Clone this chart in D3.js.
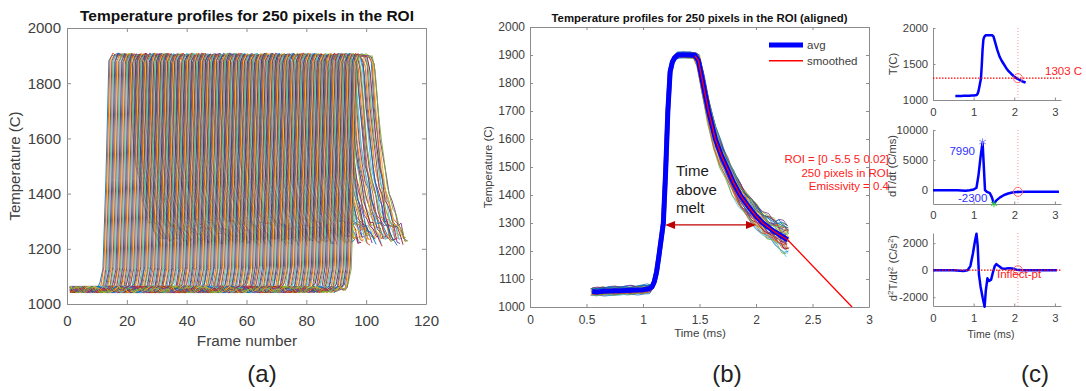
<!DOCTYPE html>
<html><head><meta charset="utf-8">
<script src="https://cdn.jsdelivr.net/npm/d3@7"></script>
<style>
body{margin:0;background:#fff}
svg{display:block}
text{font-family:"Liberation Sans",Arial,Helvetica,sans-serif}
</style>
</head><body>
<svg id="chart" width="1086" height="391"></svg>
<script>
// ================= DATA =================
const matlabColors = ["#0072BD","#D95319","#EDB120","#7E2F8E","#77AC30","#4DBEEE","#A2142F"];

// ---- panel (a): raw profiles, frame domain
const riseFramesA = [11,12,13,14,15,16,17,18,19,20,21,22,23,24,25,26,27,28,29,30,31,32,33,34,35,36,37,38,39,40,41,42,43,44,45,46,47,48,49,50,51,52,53,54,55,56,57,58,59,60,61,62,63,64,65,66,67,68,69,70,71,72,73,74,75,76,77,78,79,80,81,82,83,84,85,86,87,88,89,90,91,92,93,94];
const subFrameA = [0, 0.33, 0.67];
const levelA = [0, -9, 7];
const baselineA = 1053;
const templateA = [1065,1130,1450,1880,1905,1900,1902,1900,1895,1860,1720,1600,1510,1445,1395,1350,1310,1290,1275,1245,1235];
const templateNoiseA = [1,0.6,0.5,0.4,0.4,0.4,0.4,0.4,0.6,1.4,1.9,1.9,1.9,1.9,1.9,1.9,1.8,1.7,1.6,1.5,1.4];
const jitter = [5,-8,3,11,-4,-10,7,0,-6,9,-2,-11,4,8,-5,2,-9,6,10,-3,-7,1,12,-1,-12,3,7,-6,9,-4,0,-8,5,11,-10,2,-5];
const xTicksA = [0,20,40,60,80,100,120];
const yTicksA = [1000,1200,1400,1600,1800,2000];

// ---- panel (b): aligned profiles
const tAvgB = [0.55,0.60,0.65,0.70,0.75,0.80,0.85,0.90,0.95,1.00,1.05,1.08,1.10,1.12,1.14,1.16,1.18,1.20,1.22,1.24,1.26,1.28,1.31,1.36,1.41,1.46,1.49,1.53,1.58,1.64,1.69,1.74,1.80,1.86,1.91,1.95,2.00,2.06,2.11,2.16,2.20,2.24,2.28];
const TAvgB = [1055,1054,1056,1057,1058,1058,1059,1060,1061,1062,1065,1072,1090,1125,1180,1240,1300,1480,1700,1840,1875,1890,1900,1900,1900,1898,1880,1800,1700,1600,1545,1500,1445,1400,1372,1350,1325,1300,1285,1270,1260,1250,1240];
const spreadB = [0.35,0.35,0.35,0.35,0.35,0.35,0.35,0.35,0.35,0.35,0.35,0.15,0.15,0.15,0.15,0.15,0.15,0.15,0.15,0.15,0.15,0.15,0.25,0.25,0.25,0.25,0.5,0.8,1,1,1,1,1,1,1,1,1,1,1,1,1.15,1.25,1.3];
const pixTimeShiftB = [0.005,-0.01,0.015,-0.005,0.0,0.01,-0.015,0.008,-0.008,0.012,-0.003,0.003,-0.012,0.01,-0.01,0.005,-0.005,0.015,-0.015,0.0,0.006,-0.009,0.011,-0.004,0.002,0.014,-0.013,0.008,-0.006,0.004,-0.002,0.012,-0.011,0.009,-0.008,0.003,-0.014,0.013,-0.003,0.007];
const pixTempShiftB = [25,-30,10,-15,35,-5,20,-40,5,30,-20,15,-35,0,40,-10,22,-25,12,-32,28,-8,18,-22,38,-12,8,-28,32,-18,2,26,-36,14,-4,36,-26,6,-14,24];
const tSmoothB = [1.46,1.49,1.53,1.58,1.64,1.69,1.74,1.80,1.86,1.91,1.95,2.00,2.06,2.11,2.16,2.20,2.24,2.28,2.85];
const TSmoothB = [1898,1880,1800,1700,1600,1545,1500,1445,1400,1372,1350,1325,1300,1285,1270,1260,1250,1240,1000];
const xTicksB = [0,0.5,1,1.5,2,2.5,3];
const yTicksB = [1000,1100,1200,1300,1400,1500,1600,1700,1800,1900,2000];
const arrowB = {t0:1.195, t1:2.0, T:1293};
const roiText = ["ROI = [0 -5.5 5 0.02]","250 pixels in ROI","Emissivity = 0.4"];
const legendB = ["avg","smoothed"];

// ---- panel (c)
const meltTemp = 1303;
const inflectTime = 2.09;
const tD1 = [0.0,0.6,0.8,0.9,1.0,1.07,1.12,1.17,1.22,1.25,1.28,1.33,1.4,1.45,1.5,1.56,1.65,1.75,1.85,1.95,2.05,2.3,2.7,3.1];
const vD1 = [0,0,-80,0,100,400,2500,5500,7990,4000,0,-300,-500,-1200,-2300,-1700,-1200,-800,-550,-400,-320,-280,-270,-270];
const tD2 = [0.0,0.5,0.75,0.85,0.92,0.98,1.03,1.07,1.1,1.13,1.17,1.22,1.27,1.3,1.34,1.38,1.43,1.48,1.52,1.56,1.62,1.7,1.78,1.86,1.95,2.05,2.2,3.05];
const vD2 = [0,0,-60,0,300,1200,2100,2700,1800,-300,-1200,-2000,-2700,-1500,-600,-800,-700,-100,300,450,300,120,100,150,120,40,0,0];
const xTicksC = [0,1,2,3];
const yTicksC1 = [1000,1500,2000];
const yTicksC2 = [0,5000,10000];
const yTicksC3 = [-2000,0,2000];

// ================= DRAWING =================
const svg = d3.select("#chart");
const AX = "#8c8c8c", TX = "#404040";
const fmt = d => String(d);

function styleAxis(g, fs){
  g.selectAll("path.domain").attr("stroke", AX).attr("stroke-width",1);
  g.selectAll(".tick line").attr("stroke", AX);
  g.selectAll(".tick text").attr("fill", TX).attr("font-size", fs).attr("font-family","Liberation Sans, Arial, sans-serif");
}
function axes(x, y, o){
  const [x0,x1] = x.range(), [y0,y1] = y.range();
  const g = svg.append("g");
  const b = g.append("g").attr("transform",`translate(0,${y0})`)
    .call(d3.axisBottom(x).tickValues(o.xt).tickSize(-o.tick).tickSizeOuter(0).tickPadding(o.xpad).tickFormat(fmt));
  styleAxis(b, o.fs);
  const l = g.append("g").attr("transform",`translate(${x0},0)`)
    .call(d3.axisLeft(y).tickValues(o.yt).tickSize(-o.tick).tickSizeOuter(0).tickPadding(o.ypad).tickFormat(fmt));
  styleAxis(l, o.fs);
  if(o.box){
    const t = g.append("g").attr("transform",`translate(0,${y1})`)
      .call(d3.axisTop(x).tickValues(o.xt).tickSize(-o.tick).tickSizeOuter(0).tickFormat(""));
    styleAxis(t, o.fs);
    const r = g.append("g").attr("transform",`translate(${x1},0)`)
      .call(d3.axisRight(y).tickValues(o.yt).tickSize(-o.tick).tickSizeOuter(0).tickFormat(""));
    styleAxis(r, o.fs);
  }
  return g;
}
function label(x, y, txt, fs, opts={}){
  const t = svg.append("text").attr("x",x).attr("y",y).attr("font-size",fs)
    .attr("text-anchor", opts.anchor||"middle").attr("fill", opts.fill||TX)
    .attr("font-weight", opts.bold?"bold":"normal").text(txt);
  if(opts.rot) t.attr("transform",`rotate(-90,${x},${y})`);
  return t;
}

// ---------- Panel (a)
const xA = d3.scaleLinear().domain([0,120]).range([67,426]);
const yA = d3.scaleLinear().domain([1000,2000]).range([304,28]);
const linesA = [];
riseFramesA.forEach((r,i)=>{
  subFrameA.forEach((s,j)=>{
    if(linesA.length>=250) return;
    const pts = [];
    for(let f=1; f<r; f++) pts.push([f+s, baselineA + jitter[(f*3+i+j*11)%jitter.length]]);
    templateA.forEach((v,k)=>{
      pts.push([r+k+s, v + (k>=9?levelA[j]:0) + templateNoiseA[k]*jitter[(r*2+k*5+j*13)%jitter.length]]);
    });
    linesA.push(pts);
  });
});
const lineA = d3.line().x(d=>xA(d[0])).y(d=>yA(d[1]));
svg.append("g").selectAll("path").data(linesA).join("path")
  .attr("d", lineA).attr("fill","none")
  .attr("stroke",(d,i)=>matlabColors[i%7]).attr("stroke-width",1).attr("stroke-opacity",0.9);
axes(xA, yA, {xt:xTicksA, yt:yTicksA, tick:4, xpad:11, ypad:6, fs:15, box:true});
label(247, 20.5, "Temperature profiles for 250 pixels in the ROI", 15.5, {bold:true, fill:"#111"});
label(247, 346, "Frame number", 15.3);
label(19.5, 166, "Temperature (C)", 15, {rot:true});
label(262, 382, "(a)", 24, {fill:"#222"});

// ---------- Panel (b)
const xB = d3.scaleLinear().domain([0,3]).range([530,869]);
const yB = d3.scaleLinear().domain([1000,2000]).range([307,27]);
const lineB = d3.line().x(d=>xB(d[0])).y(d=>yB(d[1]));
const pixB = pixTimeShiftB.map((dt,p)=> tAvgB.map((t,i)=>[
  t+dt, TAvgB[i] + pixTempShiftB[p]*spreadB[i] + spreadB[i]*jitter[(i*5+p*3)%jitter.length]
]));
svg.append("g").selectAll("path").data(pixB).join("path")
  .attr("d", lineB).attr("fill","none")
  .attr("stroke",(d,i)=>matlabColors[i%7]).attr("stroke-width",0.8);
svg.append("path").datum(tAvgB.map((t,i)=>[t,TAvgB[i]])).attr("d",lineB)
  .attr("fill","none").attr("stroke","#0000ff").attr("stroke-width",5).attr("stroke-linejoin","round");
svg.append("path").datum(tSmoothB.map((t,i)=>[t,TSmoothB[i]])).attr("d",lineB)
  .attr("fill","none").attr("stroke","#ff0000").attr("stroke-width",1.3);
axes(xB, yB, {xt:xTicksB, yt:yTicksB, tick:3, xpad:8, ypad:5, fs:12, box:true});
label(699.5, 21.5, "Temperature profiles for 250 pixels in the ROI (aligned)", 11.4, {bold:true, fill:"#111"});
label(700, 337, "Time (ms)", 11.6);
label(492, 167, "Temperature (C)", 11.3, {rot:true});
label(727, 382, "(b)", 24, {fill:"#222"});
// legend
const legColors = ["#0000ff","#ff0000"], legW = [5,1.5];
legendB.forEach((s,i)=>{
  const yy = 45 + i*15.7;
  svg.append("line").attr("x1",769).attr("x2",803).attr("y1",yy).attr("y2",yy)
    .attr("stroke",legColors[i]).attr("stroke-width",legW[i]);
  label(807, yy+4, s, 11.5, {anchor:"start"});
});
// time above melt annotation
["Time","above","melt"].forEach((s,i)=> label(676, 176+i*18.7, s, 15, {anchor:"start", fill:"#1a1a1a"}));
const ay = yB(arrowB.T), ax0 = xB(arrowB.t0), ax1 = xB(arrowB.t1);
svg.append("line").attr("x1",ax0+8).attr("x2",ax1-8).attr("y1",ay).attr("y2",ay).attr("stroke","#c00000").attr("stroke-width",1.3);
svg.append("path").attr("d",`M${ax0},${ay}L${ax0+10},${ay-4}L${ax0+10},${ay+4}Z`).attr("fill","#c00000");
svg.append("path").attr("d",`M${ax1},${ay}L${ax1-10},${ay-4}L${ax1-10},${ay+4}Z`).attr("fill","#c00000");
roiText.forEach((s,i)=> label(889, 163+i*13.7, s, 11.5, {anchor:"end", fill:"#ff2020"}));

// ---------- Panel (c)
const xC = d3.scaleLinear().domain([0,3.15]).range([933,1061]);
const yC1 = d3.scaleLinear().domain([1000,2000]).range([100,28]);
const yC2 = d3.scaleLinear().domain([-2300,10000]).range([204,130]);
const yC3 = d3.scaleLinear().domain([-2650,2750]).range([306,233]);
const cfg = {xt:xTicksC, tick:2.5, xpad:8, ypad:5, fs:11.3, box:false};

function vline(y){
  svg.append("line").attr("x1",xC(inflectTime)).attr("x2",xC(inflectTime))
    .attr("y1",y.range()[1]).attr("y2",y.range()[0])
    .attr("stroke","#ff8a8a").attr("stroke-width",0.9).attr("stroke-dasharray","1,2");
}
function circ(y, v){
  svg.append("circle").attr("cx",xC(inflectTime)).attr("cy",y(v)).attr("r",4.5)
    .attr("fill","none").attr("stroke","#ff5a5a").attr("stroke-width",0.9);
}
function hline(y, v){
  svg.append("line").attr("x1",xC(0)).attr("x2",xC(3.15)).attr("y1",y(v)).attr("y2",y(v))
    .attr("stroke","#ff0000").attr("stroke-width",1.2).attr("stroke-dasharray","1.5,1.5");
}
function curve(y, ts, vs){
  svg.append("path").datum(ts.map((t,i)=>[t,vs[i]]))
    .attr("d", d3.line().x(d=>xC(d[0])).y(d=>y(d[1])))
    .attr("fill","none").attr("stroke","#0000ff").attr("stroke-width",2.5).attr("stroke-linejoin","round");
}
// c1
axes(xC, yC1, {...cfg, yt:yTicksC1});
vline(yC1);
curve(yC1, tAvgB, TAvgB);
hline(yC1, meltTemp);
circ(yC1, meltTemp);
label(1045, 75, meltTemp + " C", 11.5, {anchor:"start", fill:"#ff2020"});
label(897, 64, "T(C)", 11.3, {rot:true});
// c2
axes(xC, yC2, {...cfg, yt:yTicksC2, xpad:7});
vline(yC2);
curve(yC2, tD1, vD1);
const iMax = vD1.indexOf(d3.max(vD1)), iMin = vD1.indexOf(d3.min(vD1));
svg.append("path").attr("d", d3.symbol(d3.symbolAsterisk, 40)())
  .attr("transform",`translate(${xC(tD1[iMax])},${yC2(vD1[iMax])})`).attr("stroke","#8080ff").attr("fill","none");
svg.append("path").attr("d", d3.symbol(d3.symbolAsterisk, 30)())
  .attr("transform",`translate(${xC(tD1[iMin])},${yC2(vD1[iMin])})`).attr("stroke","#33dd33").attr("fill","none");
circ(yC2, -280);
label(975, 155, String(vD1[iMax]), 11.5, {anchor:"end", fill:"#3030ff"});
label(958, 202, String(vD1[iMin]), 11.5, {anchor:"start", fill:"#3030ff"});
label(896, 166, "dT/dt (C/ms)", 11.2, {rot:true});
// c3
axes(xC, yC3, {...cfg, yt:yTicksC3});
vline(yC3);
curve(yC3, tD2, vD2);
hline(yC3, 0);
circ(yC3, 0);
label(997, 278, "Inflect-pt", 11.5, {anchor:"start", fill:"#ff2020"});
const yl3 = label(897, 268, "", 11.2, {rot:true});
yl3.append("tspan").text("d");
yl3.append("tspan").attr("dy",-4).attr("font-size",8).text("2");
yl3.append("tspan").attr("dy",4).text("T/dt");
yl3.append("tspan").attr("dy",-4).attr("font-size",8).text("2");
yl3.append("tspan").attr("dy",4).text(" (C/s");
yl3.append("tspan").attr("dy",-4).attr("font-size",8).text("2");
yl3.append("tspan").attr("dy",4).text(")");
label(991, 338, "Time (ms)", 10.5);
label(1035, 382, "(c)", 24, {fill:"#222"});
</script>
</body></html>
